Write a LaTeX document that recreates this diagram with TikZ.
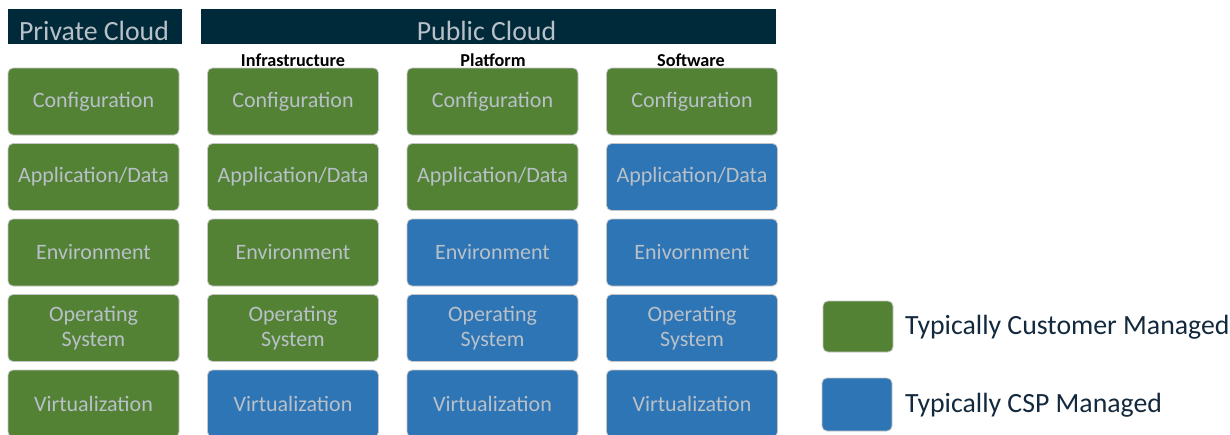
\documentclass[tikz,border=0pt]{standalone}
\usepackage{fontspec}
\setmainfont{Carlito}
\usepackage{tikz}

\definecolor{navy}{HTML}{002A3A}
\definecolor{custgreen}{HTML}{548235}
\definecolor{cspblue}{HTML}{2E75B6}
\definecolor{boxtext}{HTML}{B8C0C8}
\definecolor{keytext}{HTML}{13293D}

\tikzset{
  layer/.style={rounded corners=5pt, draw=gray!45, line width=0.8pt,
    minimum width=171pt, minimum height=67pt, text=boxtext, align=center,
    font=\fontsize{22}{25}\selectfont},
  cust/.style={layer, fill=custgreen},
  csp/.style={layer, fill=cspblue},
  header/.style={fill=navy, inner sep=0pt},
  coltitle/.style={anchor=base, text=black, font=\fontsize{18.2}{20}\selectfont\bfseries},
  keytxt/.style={anchor=base west, inner sep=0pt, text=keytext, font=\fontsize{27.8}{30}\selectfont}
}

\begin{document}
\begin{tikzpicture}[x=1pt, y=-1pt]
    \useasboundingbox (0, 0) rectangle (1230, 434);

    % headers
    \node [header, minimum width=174pt, minimum height=35pt] (priv) at (95, 26.5) {};
    \node [header, minimum width=575pt, minimum height=35pt] (pub) at (488.5, 26.5) {};
    \node [anchor=base, text=boxtext, font=\fontsize{27.8}{30}\selectfont] (privtxt) at (94, 40) {Private Cloud};
    \node [anchor=base, text=boxtext, font=\fontsize{27.8}{30}\selectfont] (pubtxt) at (486.5, 40) {Public Cloud};

    \node [coltitle] (infra) at (293, 66) {Infrastructure};
    \node [coltitle] (plat) at (493, 66) {Platform};
    \node [coltitle] (soft) at (691, 66) {Software};

    % private cloud
    \node [cust] (p1) at (93.5, 101.5) {Configuration};
    \node [cust] (p2) at (93.5, 177) {Application/Data};
    \node [cust] (p3) at (93.5, 252.5) {Environment};
    \node [cust] (p4) at (93.5, 328) {Operating\\System};
    \node [cust] (p5) at (93.5, 403.5) {Virtualization};

    % infrastructure
    \node [cust] (i1) at (293, 101.5) {Configuration};
    \node [cust] (i2) at (293, 177) {Application/Data};
    \node [cust] (i3) at (293, 252.5) {Environment};
    \node [cust] (i4) at (293, 328) {Operating\\System};
    \node [csp] (i5) at (293, 403.5) {Virtualization};

    % platform
    \node [cust] (a1) at (492.5, 101.5) {Configuration};
    \node [cust] (a2) at (492.5, 177) {Application/Data};
    \node [csp] (a3) at (492.5, 252.5) {Environment};
    \node [csp] (a4) at (492.5, 328) {Operating\\System};
    \node [csp] (a5) at (492.5, 403.5) {Virtualization};

    % software
    \node [cust] (s1) at (692, 101.5) {Configuration};
    \node [csp] (s2) at (692, 177) {Application/Data};
    \node [csp] (s3) at (692, 252.5) {Enivornment};
    \node [csp] (s4) at (692, 328) {Operating\\System};
    \node [csp] (s5) at (692, 403.5) {Virtualization};

    % legend
    \node [cust, minimum width=70pt, minimum height=51pt] (keycust) at (858, 326.5) {};
    \node [csp, minimum width=70pt, minimum height=53pt] (keycsp) at (857, 404.5) {};
    \node [keytxt] (custtxt) at (905, 334) {Typically Customer Managed};
    \node [keytxt] (csptxt) at (905, 412) {Typically CSP Managed};
  \end{tikzpicture}
\end{document}
